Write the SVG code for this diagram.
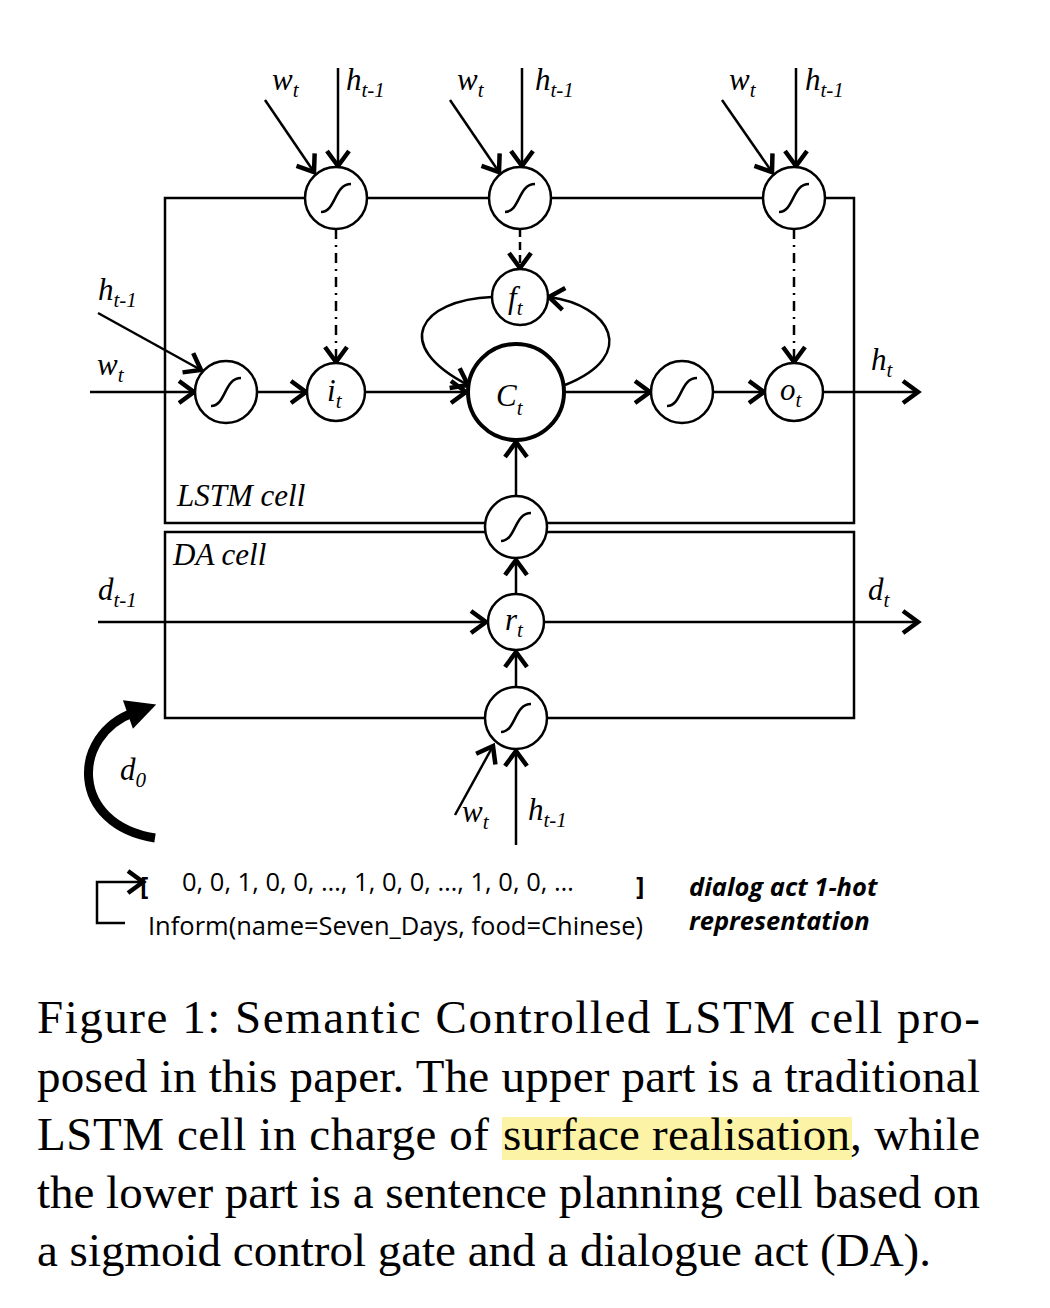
<svg xmlns="http://www.w3.org/2000/svg" width="1050" height="1308" viewBox="0 0 1050 1308">
<style>
.l{fill:none;stroke:#000;stroke-width:2.5}
.c{fill:#fff;stroke:#000;stroke-width:2.5}
.a{marker-end:url(#ar)}
.m{font-family:"Liberation Serif",serif;font-style:italic;font-size:31px}
.s{font-size:21px}
.cap{font-family:"Liberation Serif",serif;font-size:47px}
.sans{font-family:"Open Sans","Liberation Sans",sans-serif;font-size:25.5px}
</style>
<defs>
<marker id="ar" markerWidth="12" markerHeight="12" refX="10" refY="6" orient="auto" markerUnits="userSpaceOnUse" viewBox="0 0 12 12" overflow="visible">
<path d="M-5,-5 L10,6 L-5,17" fill="none" stroke="#000" stroke-width="4.5"/>
</marker>
<marker id="big" markerWidth="30" markerHeight="30" refX="6" refY="12" orient="auto" markerUnits="userSpaceOnUse" viewBox="0 0 24 24" overflow="visible">
<path d="M0,0 L24,12 L0,24 Z" fill="#000"/>
</marker>
<path id="sg" d="M-15,14 C0,14 -2,-14 15,-14" fill="none" stroke="#000" stroke-width="2.5"/>
</defs>
<g id="boxes">
<rect x="165" y="198" width="689" height="325" class="l"/>
<rect x="165" y="532" width="689" height="186" class="l"/>
<text x="177" y="506" class="m" font-size="26">LSTM cell</text>
<text x="173" y="565" class="m" font-size="26">DA cell</text>
</g>
<g id="connectors">
<line x1="265" y1="100" x2="314" y2="172" class="l a"/>
<line x1="338" y1="68" x2="338" y2="166" class="l a"/>
<line x1="450" y1="100" x2="499" y2="172" class="l a"/>
<line x1="522" y1="68" x2="522" y2="166" class="l a"/>
<line x1="722" y1="100" x2="772" y2="172" class="l a"/>
<line x1="796" y1="68" x2="796" y2="166" class="l a"/>
<line x1="336" y1="229" x2="336" y2="362" class="l a" stroke-dasharray="10,6,2,6"/>
<line x1="794" y1="229" x2="794" y2="362" class="l a" stroke-dasharray="10,6,2,6"/>
<line x1="520" y1="229" x2="520" y2="268" class="l a" stroke-dasharray="8,5"/>
<line x1="90" y1="392" x2="194" y2="392" class="l a"/>
<line x1="98" y1="313" x2="201" y2="370" class="l a"/>
<line x1="257" y1="392" x2="306" y2="392" class="l a"/>
<line x1="365" y1="392" x2="466" y2="392" class="l a"/>
<line x1="565" y1="392" x2="650" y2="392" class="l a"/>
<line x1="713" y1="392" x2="764" y2="392" class="l a"/>
<line x1="823" y1="392" x2="918" y2="392" class="l a"/>
<path d="M492,297 C420,300 390,345 468,385" class="l a"/>
<path d="M565,385 C640,355 610,305 549,297" class="l a"/>
<line x1="516" y1="496" x2="516" y2="442" class="l a"/>
<line x1="516" y1="594" x2="516" y2="560" class="l a"/>
<line x1="516" y1="687" x2="516" y2="652" class="l a"/>
<line x1="98" y1="622" x2="486" y2="622" class="l a"/>
<line x1="544" y1="622" x2="918" y2="622" class="l a"/>
<line x1="455" y1="815" x2="493" y2="746" class="l a"/>
<line x1="516" y1="845" x2="516" y2="751" class="l a"/>
<path d="M155,838 C70,825 70,735 135,712" fill="none" stroke="#000" stroke-width="9" marker-end="url(#big)"/>
<path d="M125,923 H97 V882 H143" class="l a"/>
</g>
<g id="gate_i_top"><circle cx="336" cy="198" r="31" class="c"/><use href="#sg" x="336" y="198"/></g>
<g id="gate_f_top"><circle cx="520" cy="198" r="31" class="c"/><use href="#sg" x="520" y="198"/></g>
<g id="gate_o_top"><circle cx="794" cy="198" r="31" class="c"/><use href="#sg" x="794" y="198"/></g>
<g id="f_t"><circle cx="520" cy="297" r="28" class="c"/><text x="508" y="308" class="m">f<tspan class="s" dy="7">t</tspan></text></g>
<g id="sig_in"><circle cx="226" cy="392" r="31" class="c"/><use href="#sg" x="226" y="392"/></g>
<g id="i_t"><circle cx="336" cy="392" r="29" class="c"/><text x="327" y="401" class="m">i<tspan class="s" dy="7">t</tspan></text></g>
<g id="C_t"><circle cx="516" cy="392" r="48" stroke="#000" stroke-width="4" fill="#fff"/><text x="496" y="406" class="m" font-size="40">C<tspan class="s" font-size="24" dy="9">t</tspan></text></g>
<g id="tanh"><circle cx="682" cy="392" r="31" class="c"/><use href="#sg" x="682" y="392"/></g>
<g id="o_t"><circle cx="794" cy="392" r="29" class="c"/><text x="780" y="400" class="m">o<tspan class="s" dy="7">t</tspan></text></g>
<g id="sig_da"><circle cx="516" cy="527" r="31" class="c"/><use href="#sg" x="516" y="527"/></g>
<g id="r_t"><circle cx="516" cy="622" r="28" class="c"/><text x="505" y="630" class="m">r<tspan class="s" dy="7">t</tspan></text></g>
<g id="sig_r"><circle cx="516" cy="718" r="31" class="c"/><use href="#sg" x="516" y="718"/></g>
<g id="labels">
<text x="272" y="90" class="m">w<tspan class="s" dy="7">t</tspan></text>
<text x="346" y="90" class="m">h<tspan class="s" dy="7">t-1</tspan></text>
<text x="457" y="90" class="m">w<tspan class="s" dy="7">t</tspan></text>
<text x="535" y="90" class="m">h<tspan class="s" dy="7">t-1</tspan></text>
<text x="729" y="90" class="m">w<tspan class="s" dy="7">t</tspan></text>
<text x="805" y="90" class="m">h<tspan class="s" dy="7">t-1</tspan></text>
<text x="98" y="300" class="m">h<tspan class="s" dy="7">t-1</tspan></text>
<text x="97" y="375" class="m">w<tspan class="s" dy="7">t</tspan></text>
<text x="871" y="370" class="m">h<tspan class="s" dy="7">t</tspan></text>
<text x="98" y="600" class="m">d<tspan class="s" dy="7">t-1</tspan></text>
<text x="868" y="600" class="m">d<tspan class="s" dy="7">t</tspan></text>
<text x="120" y="780" class="m">d<tspan class="s" dy="7">0</tspan></text>
<text x="462" y="822" class="m">w<tspan class="s" dy="7">t</tspan></text>
<text x="528" y="820" class="m">h<tspan class="s" dy="7">t-1</tspan></text>
<text x="140" y="895" class="sans" font-size="32" font-weight="bold">[</text>
<text x="182" y="891" class="sans">0, 0, 1, 0, 0, …, 1, 0, 0, …, 1, 0, 0, …</text>
<text x="636" y="895" class="sans" font-size="32" font-weight="bold">]</text>
<text x="148" y="935" class="sans" font-size="26">Inform(name=Seven_Days, food=Chinese)</text>
<text x="689" y="896" class="sans" font-style="italic" font-weight="bold">dialog act 1-hot</text>
<text x="689" y="930" class="sans" font-style="italic" font-weight="bold">representation</text>
</g>
<g id="caption">
<rect x="502" y="1117" width="350" height="43" fill="#fdf3a6"/>
<text x="37" y="1033" class="cap" textLength="943" lengthAdjust="spacing">Figure 1:  Semantic Controlled LSTM cell pro-</text>
<text x="37" y="1092" class="cap" textLength="943" lengthAdjust="spacing">posed in this paper. The upper part is a traditional</text>
<text x="37" y="1150" class="cap" textLength="452" lengthAdjust="spacing">LSTM cell in charge of</text>
<text x="503" y="1150" class="cap" textLength="347" lengthAdjust="spacing">surface realisation</text>
<text x="850" y="1150" class="cap" textLength="130" lengthAdjust="spacing">, while</text>
<text x="37" y="1208" class="cap" textLength="943" lengthAdjust="spacing">the lower part is a sentence planning cell based on</text>
<text x="37" y="1266" class="cap">a sigmoid control gate and a dialogue act (DA).</text>
</g>
</svg>
